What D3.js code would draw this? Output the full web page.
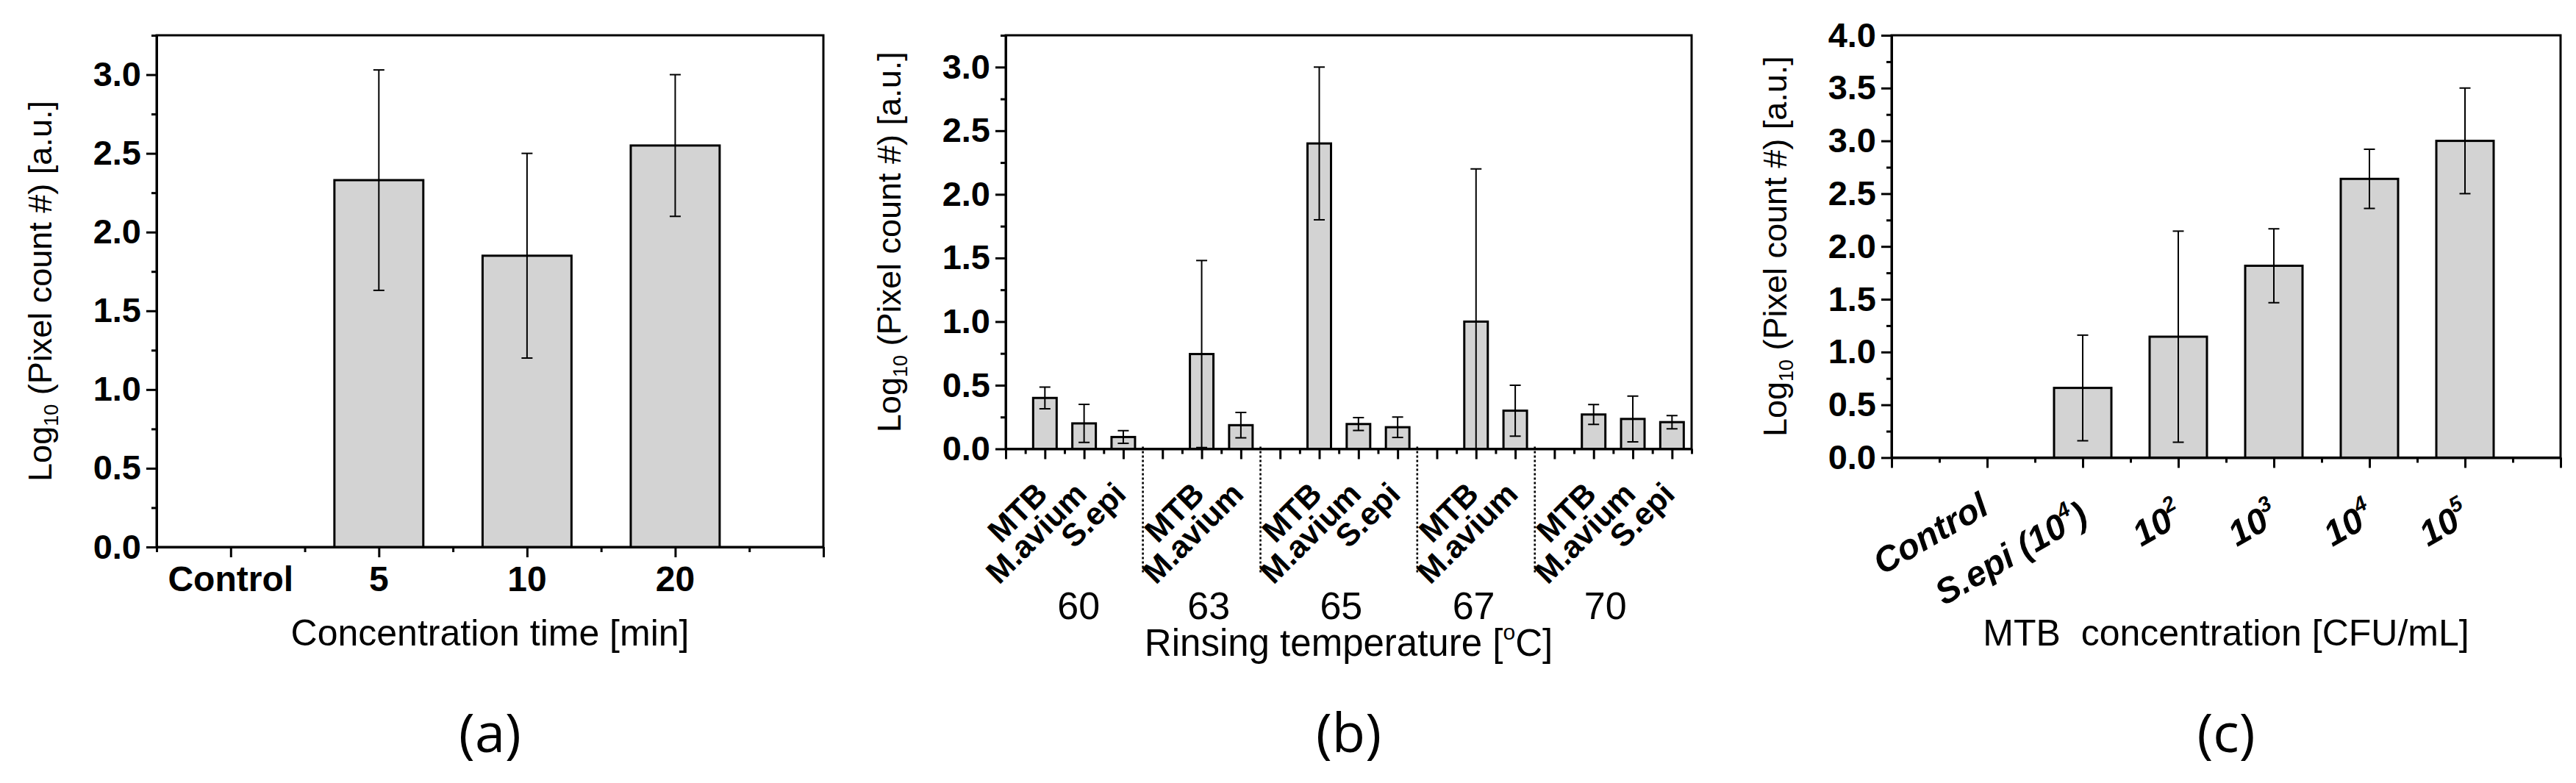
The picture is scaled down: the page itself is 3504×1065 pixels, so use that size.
<!DOCTYPE html>
<html>
<head>
<meta charset="utf-8">
<script src="https://cdn.jsdelivr.net/npm/d3@7"></script>
<style>
  body { margin: 0; background: #fff; }
  svg text { font-family: "Liberation Sans", Arial, sans-serif; }
</style>
</head>
<body>
<svg id="chart" width="3504" height="1065"></svg>
<script>
// ---- data ----

// (a) concentration time
const aLabels = ["Control", "5", "10", "20"]
const aValues = [null, 2.33, 1.85, 2.55]
const aErrors = [null, 0.70, 0.65, 0.45]

// (b) rinsing temperature, one slot per bar ("" = empty slot)
const bLabels = ["MTB", "M.avium", "S.epi", "", "MTB", "M.avium", "", "MTB", "M.avium", "S.epi", "", "MTB", "M.avium", "", "MTB", "M.avium", "S.epi"]
const bValues = [0.40, 0.20, 0.093, null, 0.745, 0.186, null, 2.40, 0.195, 0.17, null, 1.00, 0.30, null, 0.27, 0.235, 0.21]
const bErrors = [0.085, 0.15, 0.05, null, 0.735, 0.10, null, 0.60, 0.05, 0.08, null, 1.20, 0.20, null, 0.078, 0.18, 0.052]
const bGroups = ["60", "63", "65", "67", "70"]
const bGroupAt = [1.86, 5.18, 8.56, 11.94, 15.3]
const bSeparators = [3.5, 6.5, 10.5, 13.5]

// (c) MTB concentration
const cLabels = ["Control", "S.epi (10^4)", "10^2", "10^3", "10^4", "10^5"]
const cValues = [null, 0.66, 1.145, 1.817, 2.64, 3.00]
const cErrors = [null, 0.50, 1.00, 0.35, 0.28, 0.50]

const svg = d3.select("#chart")
svg.append("rect").attr("width", 3504).attr("height", 1065).attr("fill", "#fff")

const near = (d, step) => Math.abs(d / step - Math.round(d / step)) < 1e-6

function drawPanel(p) {
    const w = p.right - p.left
    const h = p.bottom - p.top
    const g = svg.append("g").attr("transform", `translate(${p.left},${p.top})`)

    const x = d3.scaleLinear().domain(p.xDomain).range([0, w])
    const y = d3.scaleLinear().domain([0, p.yMax]).range([h, 0])

    g.append("clipPath").attr("id", "clip-" + p.id)
        .append("rect").attr("width", w).attr("height", h)

    // frame
    g.append("rect")
        .attr("width", w).attr("height", h)
        .attr("fill", "none").attr("stroke", "#000").attr("stroke-width", 3)

    const bw = x(p.xDomain[0] + 0.6) - x(p.xDomain[0])
    const rows = p.values.map((v, i) => ({ pos: i + 1, v: v, e: p.errors[i] })).filter(d => d.v != null)

    g.selectAll(".bar").data(rows).enter().append("rect")
        .attr("class", "bar")
        .attr("x", d => x(d.pos) - bw / 2)
        .attr("y", d => y(d.v))
        .attr("width", bw)
        .attr("height", d => y(0) - y(d.v))
        .attr("fill", "#d3d3d3")
        .attr("stroke", "#000")
        .attr("stroke-width", 3)

    const err = g.append("g").attr("clip-path", `url(#clip-${p.id})`)
        .attr("stroke", "#000").attr("stroke-width", 2)
    err.selectAll(".stem").data(rows).enter().append("line")
        .attr("x1", d => x(d.pos)).attr("x2", d => x(d.pos))
        .attr("y1", d => y(d.v - d.e)).attr("y2", d => y(d.v + d.e))
    err.selectAll(".cap").data(rows.flatMap(d => [[d.pos, d.v - d.e], [d.pos, d.v + d.e]])).enter().append("line")
        .attr("x1", d => x(d[0]) - 7.5).attr("x2", d => x(d[0]) + 7.5)
        .attr("y1", d => y(d[1])).attr("y2", d => y(d[1]))

    // y axis, majors every 0.5, minors every 0.25
    const yAxis = d3.axisLeft(y)
        .tickValues(d3.range(0, p.yMax + 1e-9, 0.25))
        .tickSize(14).tickSizeOuter(0).tickPadding(7)
        .tickFormat(d => near(d, 0.5) ? d3.format(".1f")(d) : "")
    g.append("g").call(yAxis)
        .call(s => s.selectAll(".tick line").filter(d => !near(d, 0.5)).attr("x2", -7))
        .call(s => s.selectAll("line, path").attr("stroke-width", 3))
        .call(s => s.selectAll("text").style("font-size", "47px").style("font-weight", "bold"))
        .attr("font-family", null)

    // x axis, majors on integers
    const xAxis = d3.axisBottom(x)
        .tickValues(d3.range(p.xDomain[0], p.xDomain[1] + 1e-9, 0.5))
        .tickSize(14).tickSizeOuter(0).tickFormat("")
    g.append("g").attr("transform", `translate(0,${h})`).call(xAxis)
        .call(s => s.selectAll(".tick line").filter(d => !near(d, 1)).attr("y2", 7))
        .call(s => s.selectAll(".tick line").filter(d => p.skipTicks && p.skipTicks.includes(d)).remove())
        .call(s => s.selectAll("line, path").attr("stroke-width", 3))

    // y title
    const yt = g.append("text")
        .attr("transform", `translate(-143,${h / 2}) rotate(-90)`)
        .attr("text-anchor", "middle").style("font-size", "45px")
    yt.append("tspan").text("Log")
    yt.append("tspan").text("10").style("font-size", "27px").attr("dy", 9)
    yt.append("tspan").text(" (Pixel count #) [a.u.]").attr("dy", -9)

    // panel letter
    svg.append("text")
        .attr("x", p.left + w / 2).attr("y", 1023)
        .attr("text-anchor", "middle")
        .style("font-family", "'Open Sans', sans-serif").style("font-size", "74px")
        .text(p.letter)

    return { g: g, x: x, y: y, w: w, h: h }
}

// ---- (a) ----
const pa = drawPanel({ id: "a", left: 213, right: 1120, top: 48, bottom: 744, xDomain: [0.5, 5], yMax: 3.25,
    values: aValues, errors: aErrors, letter: "(a)" })
pa.g.selectAll(".xlab").data(aLabels).enter().append("text")
    .attr("x", (d, i) => pa.x(i + 1)).attr("y", pa.h + 60)
    .attr("text-anchor", "middle")
    .style("font-size", "48px").style("font-weight", "bold")
    .text(d => d)
pa.g.append("text")
    .attr("x", pa.w / 2).attr("y", pa.h + 134)
    .attr("text-anchor", "middle").style("font-size", "50px")
    .text("Concentration time [min]")

// ---- (b) ----
const pb = drawPanel({ id: "b", left: 1368, right: 2301, top: 48, bottom: 610.5, xDomain: [0, 17.5], yMax: 3.25,
    values: bValues, errors: bErrors, letter: "(b)", skipTicks: bSeparators })
bLabels.forEach((lab, i) => {
    if (!lab) return
    pb.g.append("text")
        .attr("transform", `translate(${pb.x(i + 1) + 6},${pb.h + 64}) rotate(-45)`)
        .attr("text-anchor", "end")
        .style("font-size", "43px").style("font-weight", "bold")
        .text(lab)
})
pb.g.selectAll(".sep").data(bSeparators).enter().append("line")
    .attr("x1", d => pb.x(d)).attr("x2", d => pb.x(d))
    .attr("y1", pb.h - 3).attr("y2", pb.h + 170)
    .attr("stroke", "#000").attr("stroke-width", 2.6).attr("stroke-dasharray", "3,3")
pb.g.selectAll(".grp").data(bGroups).enter().append("text")
    .attr("x", (d, i) => pb.x(bGroupAt[i])).attr("y", pb.h + 231)
    .attr("text-anchor", "middle").style("font-size", "52px")
    .text(d => d)
const bt = pb.g.append("text")
    .attr("x", pb.w / 2).attr("y", pb.h + 281)
    .attr("text-anchor", "middle").style("font-size", "51px")
bt.append("tspan").text("Rinsing temperature [")
bt.append("tspan").text("o").style("font-size", "30px").attr("dy", -22)
bt.append("tspan").text("C]").attr("dy", 22)

// ---- (c) ----
const pc = drawPanel({ id: "c", left: 2573, right: 3483, top: 48, bottom: 622.4, xDomain: [0, 7], yMax: 4,
    values: cValues, errors: cErrors, letter: "(c)" })
cLabels.forEach((lab, i) => {
    const parts = lab.split(/\^(\d)/)
    const sup = parts.length > 1
    const t = pc.g.append("text")
        .attr("transform", `translate(${pc.x(i + 1) + (sup ? 10 : 5)},${pc.h + (sup ? 87 : 75)}) rotate(-30)`)
        .attr("text-anchor", "end")
        .style("font-size", "48px").style("font-weight", "bold").style("font-style", "italic")
    parts.forEach((s, k) => {
        if (!s) return
        const ts = t.append("tspan").text(s)
        if (k % 2 == 1) ts.style("font-size", "29px").attr("dy", -22)
        else if (k > 0) ts.attr("dy", 22)
    })
})
pc.g.append("text")
    .attr("x", pc.w / 2).attr("y", pc.h + 256)
    .attr("text-anchor", "middle").style("font-size", "50px")
    .text("MTB\u00A0 concentration [CFU/mL]")
</script>
</body>
</html>
